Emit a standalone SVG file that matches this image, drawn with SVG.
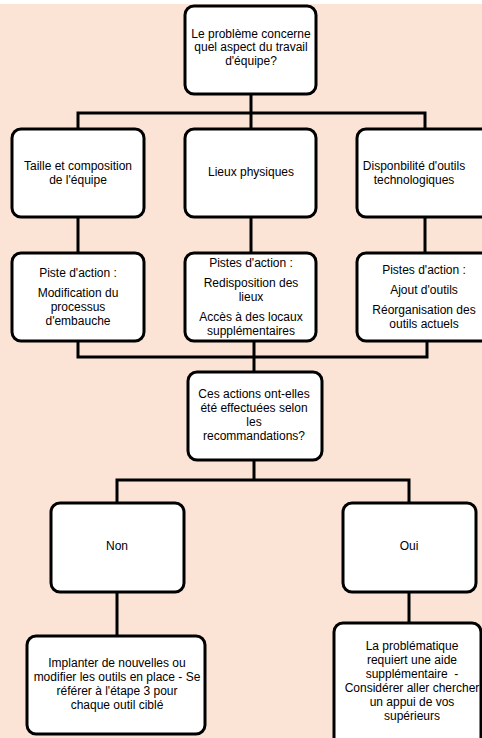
<svg xmlns="http://www.w3.org/2000/svg" width="482" height="738" viewBox="0 0 482 738">
<style>
.bg{fill:#FBE4D5}
.box{fill:#FFFFFF;stroke:#000000;stroke-width:3}
.ln{fill:none;stroke:#000000;stroke-width:3;stroke-linejoin:miter;stroke-linecap:square}
text{font-family:"Liberation Sans",Arial,sans-serif;font-size:12px;fill:#000000;text-anchor:middle}
.pre{white-space:pre}
</style>
<rect x="0" y="0" width="482" height="738" fill="#FFFFFF"/>
<rect class="bg" x="0" y="4" width="482" height="734"/>
<g id="connectors">
<path class="ln" d="M251,94 V113 M78,129 V113 H425 V129 M251,113 V129"/>
<path class="ln" d="M78,217 V253 M251,217 V253 M425,217 V253"/>
<path class="ln" d="M78,341 V357 H427 V341 M254,341 V372"/>
<path class="ln" d="M254,460 V480 M117,503 V480 H409 V503"/>
<path class="ln" d="M117,592 V636 M409,592 V623"/>
</g>
<g id="n-question">
<rect class="box" x="185" y="6" width="131" height="88" rx="9"/>
<text x="251" y="37.5">Le problème concerne</text>
<text x="251" y="51">quel aspect du travail</text>
<text x="251" y="64.5">d'équipe?</text>
</g>
<g id="n-taille">
<rect class="box" x="12" y="129" width="132" height="88" rx="9"/>
<text x="78" y="170">Taille et composition</text>
<text x="78" y="184">de l'équipe</text>
</g>
<g id="n-lieux">
<rect class="box" x="185" y="129" width="131" height="88" rx="9"/>
<text x="251" y="176">Lieux physiques</text>
</g>
<g id="n-outils">
<rect class="box" x="357" y="129" width="140" height="88" rx="9"/>
<text x="414" y="170">Disponbilité d'outils</text>
<text x="414" y="184">technologiques</text>
</g>
<g id="n-piste1">
<rect class="box" x="12" y="253" width="132" height="88" rx="9"/>
<text x="78" y="277">Piste d'action :</text>
<text x="78" y="297">Modification du</text>
<text x="78" y="311">processus</text>
<text x="78" y="325">d'embauche</text>
</g>
<g id="n-piste2">
<rect class="box" x="185" y="253" width="131" height="88" rx="9"/>
<text x="251" y="267">Pistes d'action :</text>
<text x="251" y="287">Redisposition des</text>
<text x="251" y="301">lieux</text>
<text x="251" y="321">Accès à des locaux</text>
<text x="251" y="335">supplémentaires</text>
</g>
<g id="n-piste3">
<rect class="box" x="357" y="253" width="140" height="88" rx="9"/>
<text x="424" y="274">Pistes d'action :</text>
<text x="424" y="294">Ajout d'outils</text>
<text x="424" y="314">Réorganisation des</text>
<text x="424" y="328">outils actuels</text>
</g>
<g id="n-ces">
<rect class="box" x="188" y="372" width="134" height="88" rx="9"/>
<text x="254" y="398">Ces actions ont-elles</text>
<text x="254" y="412">été effectuées selon</text>
<text x="254" y="426">les</text>
<text x="254" y="440">recommandations?</text>
</g>
<g id="n-non">
<rect class="box" x="51" y="503" width="133" height="89" rx="9"/>
<text x="117" y="550">Non</text>
</g>
<g id="n-oui">
<rect class="box" x="343" y="503" width="133" height="89" rx="9"/>
<text x="409" y="550">Oui</text>
</g>
<g id="n-implanter">
<rect class="box" x="27" y="636" width="178" height="98" rx="9"/>
<text x="117" y="667">Implanter de nouvelles ou</text>
<text x="117" y="681">modifier les outils en place - Se</text>
<text x="117" y="695">référer à l'étape 3 pour</text>
<text x="117" y="709">chaque outil ciblé</text>
</g>
<g id="n-aide">
<rect class="box" x="334" y="623" width="147" height="130" rx="9"/>
<text x="412" y="650">La problématique</text>
<text x="412" y="664">requiert une aide</text>
<text class="pre" x="412" y="678">supplémentaire  -</text>
<text x="412" y="692">Considérer aller chercher</text>
<text x="412" y="706">un appui de vos</text>
<text x="412" y="720">supérieurs</text>
</g>
</svg>
